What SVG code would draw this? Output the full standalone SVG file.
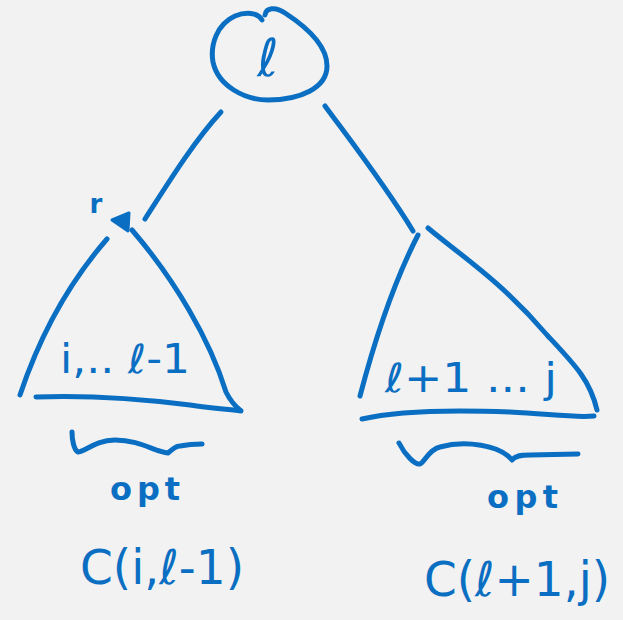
<svg xmlns="http://www.w3.org/2000/svg" width="623" height="620" viewBox="0 0 623 620">
  <style>
    .ink { fill: none; stroke: #0a6fc2; stroke-width: 5; stroke-linecap: round; stroke-linejoin: round; }
    .head { fill: #0a6fc2; stroke: #0a6fc2; stroke-width: 3; stroke-linejoin: round; }
    .hand { fill: #0a6fc2; font-family: "DejaVu Sans", "Noto Sans", sans-serif; }
    .b { font-weight: bold; }
  </style>
  <rect width="623" height="620" fill="#f2f2f2"/>

  <!-- connectors from the root to the two subtrees -->
  <g id="connectors">
    <path class="ink" d="M221,112 C195,140 170,180 145,219"/>
    <polygon class="head" points="112,220 129,213 128,231"/>
    <path class="ink" d="M325,106 C350,140 385,185 413,231"/>
  </g>

  <!-- root node -->
  <g id="root">
    <path class="ink" d="M262,20 C258,12 245,12 235,16 C217,24 210,45 213,62 C218,86 245,100 268,100 C300,100 327,88 327,66 C327,45 305,26 285,13 C275,6 266,8 265,15"/>
    <text class="hand" x="268" y="76" font-size="52" text-anchor="middle">ℓ</text>
  </g>

  <!-- left subtree -->
  <g id="left-subtree">
    <text class="hand b" x="96" y="213" font-size="26" text-anchor="middle">r</text>
    <path class="ink" d="M107,239 C80,270 45,320 20,395"/>
    <path class="ink" d="M132,230 C175,280 210,340 226,392 C230,400 235,406 240,410"/>
    <path class="ink" d="M36,397 C90,395 150,400 190,405 C210,408 225,409 241,411"/>
    <text class="hand" x="60" y="373" font-size="40" textLength="130" lengthAdjust="spacingAndGlyphs">i,.. ℓ-1</text>
    <path class="ink" d="M72,432 C72,440 74,450 78,452 C85,452 95,440 115,440 C140,440 155,452 168,453 C172,450 175,446 180,446 C190,444 196,444 202,444"/>
    <text class="hand b" x="110" y="500" font-size="32" textLength="70" lengthAdjust="spacing">opt</text>
    <text class="hand" x="80" y="584" font-size="48" textLength="164" lengthAdjust="spacingAndGlyphs">C(i,ℓ-1)</text>
  </g>

  <!-- right subtree -->
  <g id="right-subtree">
    <path class="ink" d="M418,235 C400,270 380,320 360,396"/>
    <path class="ink" d="M428,228 C460,255 500,280 547,335 C575,365 590,380 597,410"/>
    <path class="ink" d="M362,419 C400,410 460,410 510,412 C550,414 575,418 594,416"/>
    <text class="hand" x="385" y="392" font-size="40" textLength="172" lengthAdjust="spacingAndGlyphs">ℓ+1 ... j</text>
    <path class="ink" d="M399,443 C405,455 415,465 420,464 C425,462 428,450 440,447 C465,440 500,445 512,460 C515,456 520,455 530,455 L578,454"/>
    <text class="hand b" x="487" y="508" font-size="32" textLength="71" lengthAdjust="spacing">opt</text>
    <text class="hand" x="424" y="596" font-size="48" textLength="186" lengthAdjust="spacingAndGlyphs">C(ℓ+1,j)</text>
  </g>
</svg>
